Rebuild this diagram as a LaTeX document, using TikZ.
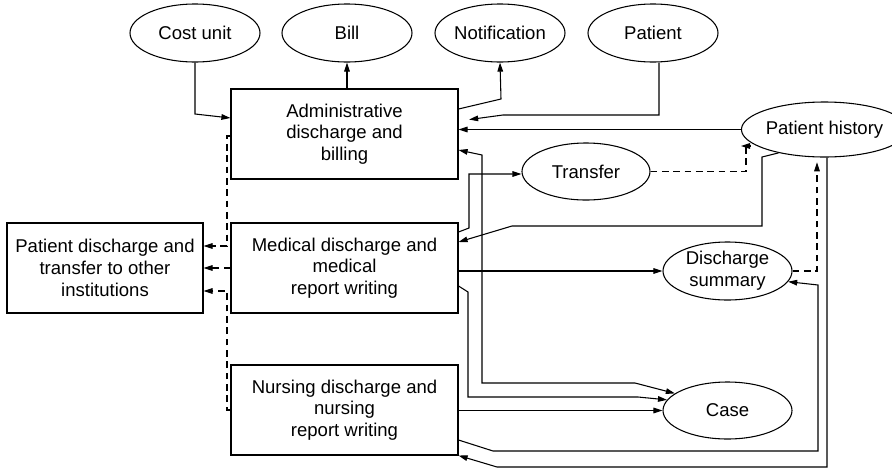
\documentclass[tikz,border=0pt]{standalone}
\usepackage{fontspec}
\setmainfont{Liberation Sans}
\usepackage{tikz}
\usetikzlibrary{shapes.geometric,arrows.meta}

\begin{document}
\begin{tikzpicture}[x=0.75pt,y=0.75pt,yscale=-1,xscale=1,
  line width=0.8pt,
  txt/.style={font=\fontsize{13.9}{16.3}\selectfont,align=center},
  box/.style={txt,draw,rectangle,inner sep=0pt,minimum width=170.25pt,minimum height=67.5pt},
  oval/.style={txt,draw,ellipse,inner sep=0pt,minimum width=97.5pt,minimum height=43.5pt},
  arr/.style={-{Triangle[length=6.8pt,width=4.2pt]}},
  barr/.style={{Triangle[length=6.8pt,width=4.2pt]}-{Triangle[length=6.8pt,width=4.2pt]}},
  darr/.style={arr,dash pattern=on 5pt off 3.5pt}]
\useasboundingbox (0,0) rectangle (892,468);

\node [oval] (cost) at (195,33) {Cost unit};
\node [oval] (bill) at (347,33) {Bill};
\node [oval] (notif) at (500,33) {Notification};
\node [oval] (pat) at (653,33) {Patient};
\node [box] (adm) at (344.5,134) {Administrative\\discharge and\\billing};
\node [box] (med) at (344.5,268) {Medical discharge and\\medical\\report writing};
\node [box] (nurs) at (344.5,410) {Nursing discharge and\\nursing\\report writing};
\node [box,minimum width=147pt] (pd) at (105,268) {Patient discharge and\\transfer to other\\institutions};
\node [oval,minimum width=93.75pt,minimum height=41.25pt] (hist) at (824.5,129.5) {Patient history};
\node [oval,minimum width=96pt,minimum height=42.75pt] (trans) at (586,171.5) {Transfer};
\node [oval,minimum width=96.75pt,minimum height=43.5pt] (dsum) at (727.5,271) {Discharge\\summary};
\node [oval,minimum width=96.75pt,minimum height=42.75pt] (case) at (727.5,410.5) {Case};

\draw [arr] (cost.south) -- (cost.south |- 0,114) -- (adm.west |- 0,118);
\draw [arr] (bill.south |- adm.north) -- (bill.south);
\draw [arr] (adm.east |- 0,109) -- (501,99) -- (notif.south);
\draw [arr,shorten >=8pt] (pat.south -| 659,0) -- (659,115) -- (503,115) -- (adm.east |- 0,121);
\draw [arr] (hist.west) -- (adm.east |- hist.west);
\draw [darr] (trans.east) -| (746,146) -- (hist.west |- 0,146);
\draw [arr] (hist.207) -- (762,157) -- (762,226) -- (512,226) -- (med.east |- 0,242);
\draw [arr] (med.east |- 0,232) -- (469,228) -- (469,174) -- (trans.west |- 0,174);
\draw [barr] (case.162) -- (635,383) -- (482,383) -- (482,155) -- (adm.east |- 0,150);
\draw [arr] (med.east |- 0,286) -- (468,292) -- (468,397) -- (638,397) -- (case.170);
\draw [arr] (med.east |- dsum.west) -- (dsum.west);
\draw [arr] (nurs.east |- case.west) -- (case.west);
\draw [arr] (nurs.east |- 0,440) -- (493,451) -- (818,451) -- (818,285) -- (dsum.-10);
\draw [arr] (hist.south -| 827,0) -- (827,467) -- (497,467) -- (nurs.south east);
\draw [darr,shorten >=3.5pt] (dsum.east) -| (hist.south -| 817,0);
\draw [darr] (adm.west |- 0,136) -- (227,136) -- (227,246) -- (pd.east |- 0,246);
\draw [darr] (med.west) -- (pd.east);
\draw [darr] (nurs.west) -- (227,410) -- (227,291) -- (pd.east |- 0,291);
\end{tikzpicture}
\end{document}
